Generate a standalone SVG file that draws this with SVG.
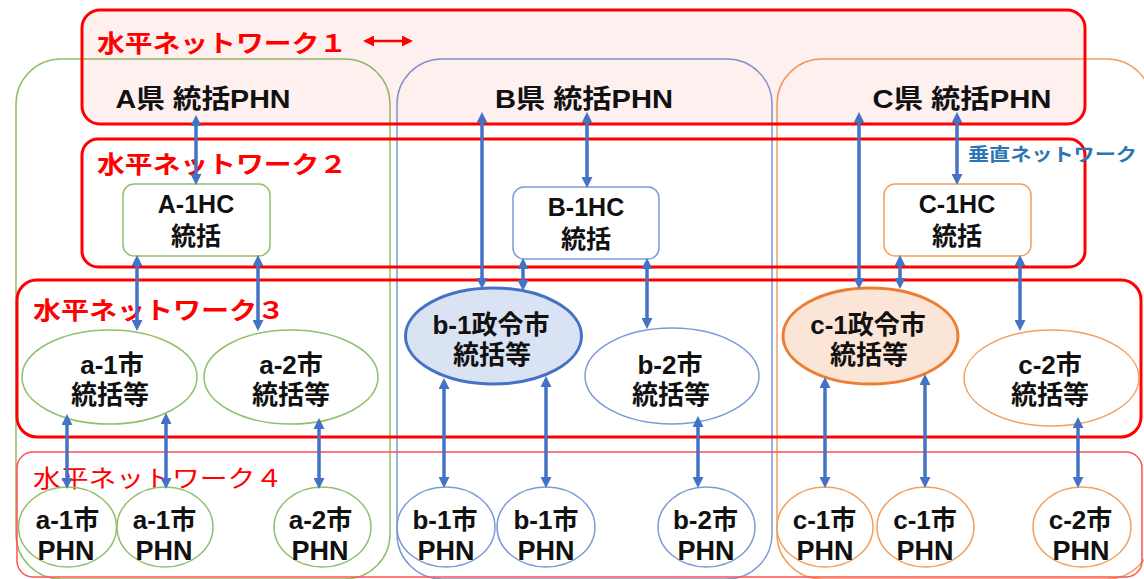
<svg xmlns="http://www.w3.org/2000/svg" width="1144" height="579" viewBox="0 0 1144 579">
<style>
.t{font-family:"Liberation Sans","Noto Sans CJK JP",sans-serif;font-weight:bold;fill:#111;text-anchor:middle}
.p{font-size:27px}
.net{font-family:"Noto Sans CJK JP","Noto Sans",sans-serif;font-weight:bold;fill:#ff0000;font-size:24px}
.nb{stroke:#ff0000;stroke-width:3;fill:none}
.g{stroke:#8fc06c;stroke-width:1.5;fill:none}
.b{stroke:#7b9bd6;stroke-width:1.5;fill:none}
.o{stroke:#f0a060;stroke-width:1.5;fill:none}
.w{fill:#fff}
.c line{stroke:#4472c4;stroke-width:3.5;marker-start:url(#ah);marker-end:url(#ah)}
</style>
<defs>
<marker id="ah" markerUnits="userSpaceOnUse" markerWidth="11" markerHeight="11" refX="6" refY="5.5" orient="auto-start-reverse"><path d="M0,0 L11,5.5 L0,11 z" fill="#4472c4"/></marker>
<marker id="ahr" markerUnits="userSpaceOnUse" markerWidth="11" markerHeight="11" refX="6" refY="5.5" orient="auto-start-reverse"><path d="M0,0 L11,5.5 L0,11 z" fill="#ff0000"/></marker>
</defs>
<rect width="1144" height="579" fill="#fff"/>
<!-- prefecture containers -->
<g id="prefA"><rect class="g" x="16" y="59" width="374" height="520" rx="45"/></g>
<g id="prefB"><rect class="b" x="397" y="59" width="375" height="520" rx="45"/></g>
<g id="prefC"><rect class="o" x="777" y="59" width="375" height="520" rx="45"/></g>
<!-- networks -->
<g id="net1"><rect x="82" y="10" width="1003" height="114" rx="18" fill="#ff0000" fill-opacity="0.06" stroke="#ff0000" stroke-width="3"/>
<text class="net" x="97" y="52" textLength="250" lengthAdjust="spacingAndGlyphs">水平ネットワーク１</text>
<line x1="368" y1="41" x2="408" y2="41" stroke="#ff0000" stroke-width="2.5" marker-start="url(#ahr)" marker-end="url(#ahr)"/></g>
<g id="net2"><rect class="nb" x="82" y="139" width="1003" height="128" rx="16"/>
<text class="net" x="97" y="173" textLength="250" lengthAdjust="spacingAndGlyphs">水平ネットワーク２</text></g>
<g id="net3"><rect class="nb" x="17" y="280" width="1124" height="157" rx="20"/>
<text class="net" x="33" y="319" textLength="252" lengthAdjust="spacingAndGlyphs">水平ネットワーク３</text></g>
<g id="net4"><rect x="17" y="452" width="1125" height="125" rx="16" fill="none" stroke="#ff5050" stroke-width="1.5"/>
<text class="net" x="33" y="487" style="font-weight:normal" textLength="250" lengthAdjust="spacingAndGlyphs">水平ネットワーク４</text></g>
<text x="968" y="161" font-family="Noto Sans CJK JP,sans-serif" font-weight="bold" font-size="18" fill="#2e75b6" textLength="169" lengthAdjust="spacingAndGlyphs">垂直ネットワーク</text>
<!-- prefecture labels -->
<g id="A-PHN"><text class="t" x="203" y="108" font-size="26" textLength="175" lengthAdjust="spacingAndGlyphs">A県 統括PHN</text></g>
<g id="B-PHN"><text class="t" x="584" y="108" font-size="26" textLength="178" lengthAdjust="spacingAndGlyphs">B県 統括PHN</text></g>
<g id="C-PHN"><text class="t" x="962" y="108" font-size="26" textLength="179" lengthAdjust="spacingAndGlyphs">C県 統括PHN</text></g>
<!-- HC boxes -->
<g id="A-1HC"><rect class="g w" x="123" y="184" width="147" height="72" rx="11"/>
<text class="t" font-size="25"><tspan x="196" y="213">A-1HC</tspan><tspan x="196" y="245">統括</tspan></text></g>
<g id="B-1HC"><rect class="b w" x="513" y="187" width="146" height="72" rx="11"/>
<text class="t" font-size="25"><tspan x="586" y="216">B-1HC</tspan><tspan x="586" y="248">統括</tspan></text></g>
<g id="C-1HC"><rect class="o w" x="884" y="184" width="147" height="72" rx="11"/>
<text class="t" font-size="25"><tspan x="957" y="213">C-1HC</tspan><tspan x="957" y="245">統括</tspan></text></g>
<!-- level 3 -->
<g id="a1"><ellipse class="g w" cx="109.5" cy="377" rx="87.5" ry="47"/>
<text class="t" font-size="26"><tspan x="112" y="374">a-1市</tspan><tspan x="110" y="404">統括等</tspan></text></g>
<g id="a2"><ellipse class="g w" cx="291" cy="377" rx="87" ry="47"/>
<text class="t" font-size="26"><tspan x="291" y="374">a-2市</tspan><tspan x="291" y="404">統括等</tspan></text></g>
<g id="b1"><ellipse cx="493.5" cy="336" rx="88" ry="48" fill="#dae3f3" stroke="#4472c4" stroke-width="3"/>
<text class="t" font-size="26"><tspan x="491" y="334">b-1政令市</tspan><tspan x="492" y="364">統括等</tspan></text></g>
<g id="b2"><ellipse class="b w" cx="672" cy="376" rx="87" ry="48"/>
<text class="t" font-size="26"><tspan x="670" y="374">b-2市</tspan><tspan x="671" y="404">統括等</tspan></text></g>
<g id="c1"><ellipse cx="870.5" cy="336" rx="87.5" ry="48" fill="#fbe5d6" stroke="#ed7d31" stroke-width="3"/>
<text class="t" font-size="26"><tspan x="868" y="334">c-1政令市</tspan><tspan x="869" y="364">統括等</tspan></text></g>
<g id="c2"><ellipse class="o w" cx="1051.5" cy="378" rx="87.5" ry="48"/>
<text class="t" font-size="26"><tspan x="1050" y="374">c-2市</tspan><tspan x="1050" y="404">統括等</tspan></text></g>
<!-- level 4 -->
<g id="a1p1"><ellipse class="g" cx="67.5" cy="527" rx="49" ry="40"/><text class="t" font-size="26"><tspan x="67.5" y="529">a-1市</tspan><tspan class="p" x="66" y="560">PHN</tspan></text></g>
<g id="a1p2"><ellipse class="g" cx="165" cy="527" rx="48" ry="40"/><text class="t" font-size="26"><tspan x="164.5" y="529">a-1市</tspan><tspan class="p" x="164" y="560">PHN</tspan></text></g>
<g id="a2p"><ellipse class="g" cx="322.5" cy="527" rx="48.5" ry="40"/><text class="t" font-size="26"><tspan x="320.5" y="529">a-2市</tspan><tspan class="p" x="320" y="560">PHN</tspan></text></g>
<g id="b1p1"><ellipse class="b" cx="446" cy="527" rx="49" ry="40"/><text class="t" font-size="26"><tspan x="445" y="529">b-1市</tspan><tspan class="p" x="446" y="560">PHN</tspan></text></g>
<g id="b1p2"><ellipse class="b" cx="546" cy="527" rx="49" ry="40"/><text class="t" font-size="26"><tspan x="546" y="529">b-1市</tspan><tspan class="p" x="546" y="560">PHN</tspan></text></g>
<g id="b2p"><ellipse class="b" cx="706.5" cy="527" rx="48.5" ry="40"/><text class="t" font-size="26"><tspan x="705.5" y="529">b-2市</tspan><tspan class="p" x="706" y="560">PHN</tspan></text></g>
<g id="c1p1"><ellipse class="o" cx="825" cy="527" rx="48" ry="40"/><text class="t" font-size="26"><tspan x="824.5" y="529">c-1市</tspan><tspan class="p" x="825" y="560">PHN</tspan></text></g>
<g id="c1p2"><ellipse class="o" cx="925.5" cy="527" rx="48.5" ry="40"/><text class="t" font-size="26"><tspan x="925" y="529">c-1市</tspan><tspan class="p" x="925" y="560">PHN</tspan></text></g>
<g id="c2p"><ellipse class="o" cx="1082" cy="527" rx="49" ry="40"/><text class="t" font-size="26"><tspan x="1080.5" y="529">c-2市</tspan><tspan class="p" x="1081" y="560">PHN</tspan></text></g>
<!-- connectors -->
<g id="connectors" class="c">
<line x1="196" y1="120" x2="196" y2="180"/>
<line x1="482" y1="117" x2="482" y2="284"/>
<line x1="587" y1="117" x2="587" y2="183"/>
<line x1="859" y1="117" x2="859" y2="284"/>
<line x1="957" y1="117" x2="957" y2="180"/>
<line x1="137" y1="260" x2="137" y2="326"/>
<line x1="258" y1="260" x2="258" y2="326"/>
<line x1="523" y1="263" x2="523" y2="286"/>
<line x1="647" y1="263" x2="647" y2="324"/>
<line x1="900" y1="260" x2="900" y2="284"/>
<line x1="1020" y1="260" x2="1020" y2="326"/>
<line x1="67" y1="419" x2="67" y2="484"/>
<line x1="166" y1="418" x2="166" y2="484"/>
<line x1="319" y1="423" x2="319" y2="484"/>
<line x1="444" y1="383" x2="444" y2="483"/>
<line x1="546" y1="381" x2="546" y2="483"/>
<line x1="698" y1="421" x2="698" y2="483"/>
<line x1="825" y1="382" x2="825" y2="483"/>
<line x1="925" y1="379" x2="925" y2="483"/>
<line x1="1078" y1="422" x2="1078" y2="483"/>
</g>
</svg>
